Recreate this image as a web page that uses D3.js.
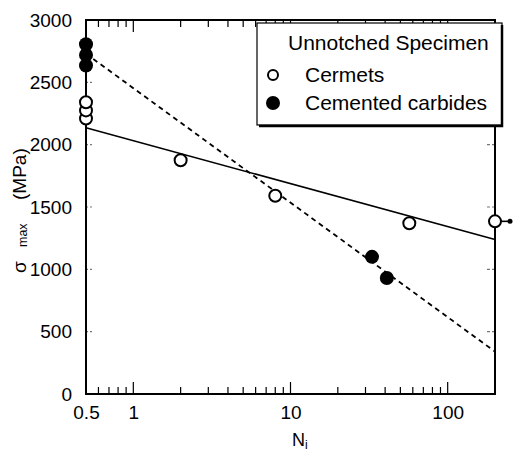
<!DOCTYPE html>
<html>
<head>
<meta charset="utf-8">
<script src="https://cdn.jsdelivr.net/npm/d3@7"></script>
<style>
  html, body { margin: 0; padding: 0; background: #fff; }
  svg { display: block; }
  text { font-family: "Liberation Sans", Arial, Helvetica, sans-serif; fill: #000; }
</style>
</head>
<body>
<svg id="chart" width="513" height="453"></svg>
<script>
// ---- data ----
const cermetN = [0.5, 0.5, 0.5, 2, 8, 57, 200];
const cermetS = [2210, 2275, 2340, 1875, 1590, 1370, 1385];
const carbideN = [0.5, 0.5, 0.5, 33, 41];
const carbideS = [2635, 2720, 2805, 1100, 930];
const cermetFitN = [0.5, 200];
const cermetFitS = [2135, 1240];
const carbideFitN = [0.5, 200];
const carbideFitS = [2730, 340];
const runoutN = [200];
const runoutS = [1385];
const xTickLabels = [0.5, 1, 10, 100];
const xMinorTicks = [0.6, 0.7, 0.8, 0.9, 2, 3, 4, 5, 6, 7, 8, 9, 20, 30, 40, 50, 60, 70, 80, 90];
const xMajorTicks = [1, 10, 100];
const yTickValues = [0, 500, 1000, 1500, 2000, 2500, 3000];
const legendTitle = "Unnotched Specimen";
const legendLabels = ["Cermets", "Cemented carbides"];

// ---- layout ----
const L = 86, R = 495, T = 20, B = 394;
const svg = d3.select("#chart");
const x = d3.scaleLog().domain([0.5, 200]).range([L, R]);
const y = d3.scaleLinear().domain([0, 3000]).range([B, T]);

// tick labels
const xAxis = svg.append("g").attr("transform", `translate(0,${B})`)
  .call(d3.axisBottom(x).tickValues(xTickLabels).tickSize(0).tickPadding(12)
        .tickFormat(d => d === 0.5 ? "0.5" : String(d)));
xAxis.select(".domain").remove();
xAxis.selectAll("text").style("font-size", "19px").style("font-family", '"Liberation Sans", Arial, sans-serif');

const yAxis = svg.append("g").attr("transform", `translate(${L},0)`)
  .call(d3.axisLeft(y).tickValues(yTickValues).tickSize(0).tickPadding(14).tickFormat(d3.format("d")));
yAxis.select(".domain").remove();
yAxis.selectAll("text").style("font-size", "19px").style("font-family", '"Liberation Sans", Arial, sans-serif');

// minor / major ticks on bottom and top (inward)
const tickG = svg.append("g").attr("stroke", "#000").attr("stroke-width", 1.2);
xMinorTicks.forEach(v => {
  tickG.append("line").attr("x1", x(v)).attr("x2", x(v)).attr("y1", B).attr("y2", B - 7);
  tickG.append("line").attr("x1", x(v)).attr("x2", x(v)).attr("y1", T).attr("y2", T + 7);
});
xMajorTicks.forEach(v => {
  tickG.append("line").attr("x1", x(v)).attr("x2", x(v)).attr("y1", B).attr("y2", B - 12);
  tickG.append("line").attr("x1", x(v)).attr("x2", x(v)).attr("y1", T).attr("y2", T + 12);
});
// y ticks left and right (inward, faint)
yTickValues.slice(1, -1).forEach(v => {
  tickG.append("line").attr("x1", L).attr("x2", L + 7).attr("y1", y(v)).attr("y2", y(v))
    .attr("stroke", "#777").attr("stroke-dasharray", "2,2");
  tickG.append("line").attr("x1", R).attr("x2", R - 8).attr("y1", y(v)).attr("y2", y(v))
    .attr("stroke", "#777").attr("stroke-dasharray", "3,2");
});

// frame
svg.append("rect").attr("x", L).attr("y", T).attr("width", R - L).attr("height", B - T)
  .attr("fill", "none").attr("stroke", "#000").attr("stroke-width", 2);

// fit lines
const line = d3.line().x(d => x(d[0])).y(d => y(d[1]));
svg.append("path").datum(d3.zip(cermetFitN, cermetFitS)).attr("d", line)
  .attr("fill", "none").attr("stroke", "#000").attr("stroke-width", 1.6);
svg.append("path").datum(d3.zip(carbideFitN, carbideFitS)).attr("d", line)
  .attr("fill", "none").attr("stroke", "#000").attr("stroke-width", 1.8).attr("stroke-dasharray", "5,4");

// runout indicator
d3.zip(runoutN, runoutS).forEach(d => {
  svg.append("line").attr("x1", x(d[0]) + 6).attr("x2", x(d[0]) + 14)
    .attr("y1", y(d[1])).attr("y2", y(d[1])).attr("stroke", "#000").attr("stroke-width", 1.6);
  svg.append("circle").attr("cx", x(d[0]) + 15).attr("cy", y(d[1])).attr("r", 2.5).attr("fill", "#000");
});

// points
svg.append("g").selectAll("circle").data(d3.zip(cermetN, cermetS)).join("circle")
  .attr("cx", d => x(d[0])).attr("cy", d => y(d[1])).attr("r", 6)
  .attr("fill", "#fff").attr("stroke", "#000").attr("stroke-width", 2);
svg.append("g").selectAll("circle").data(d3.zip(carbideN, carbideS)).join("circle")
  .attr("cx", d => x(d[0])).attr("cy", d => y(d[1])).attr("r", 7)
  .attr("fill", "#000");

// legend
const lg = svg.append("g");
lg.append("rect").attr("x", 257).attr("y", 23).attr("width", 245).attr("height", 102)
  .attr("fill", "#fff").attr("stroke", "#000").attr("stroke-width", 1.2);
lg.append("path").attr("d", "M502,25 V126 H259").attr("fill", "none").attr("stroke", "#000").attr("stroke-width", 2.5);
lg.append("text").attr("x", 288).attr("y", 50).style("font-size", "21px").text(legendTitle);
lg.append("circle").attr("cx", 273).attr("cy", 75).attr("r", 5).attr("fill", "#fff").attr("stroke", "#000").attr("stroke-width", 2);
lg.append("text").attr("x", 305).attr("y", 82).style("font-size", "21px").text(legendLabels[0]);
lg.append("circle").attr("cx", 273).attr("cy", 103).attr("r", 7).attr("fill", "#000");
lg.append("text").attr("x", 305).attr("y", 110).style("font-size", "21px").text(legendLabels[1]);

// axis titles
svg.append("text").attr("transform", "translate(26,273) rotate(-90)").style("font-size", "19px").text("σ");
svg.append("text").attr("transform", "translate(27,247) rotate(-90)").style("font-size", "12.5px").text("max");
svg.append("text").attr("transform", "translate(26,200) rotate(-90)").style("font-size", "19px").text("(MPa)");

const xl = svg.append("text").attr("x", 292).attr("y", 446).style("font-size", "18px");
xl.append("tspan").text("N");
xl.append("tspan").attr("dy", 3).style("font-size", "12px").text("i");
</script>
</body>
</html>
